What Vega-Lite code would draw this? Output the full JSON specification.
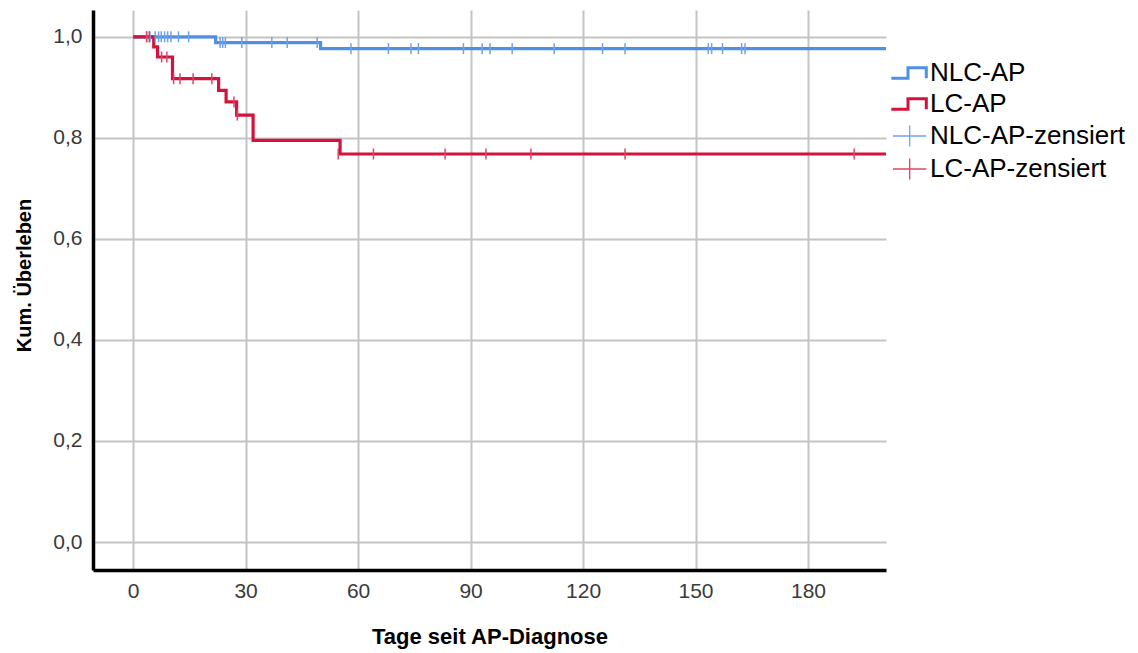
{
  "$schema": "https://vega.github.io/schema/vega-lite/v6.json",
  "width": 793,
  "height": 560,
  "autosize": {"type": "none"},
  "padding": {"left": 93, "top": 10, "right": 252, "bottom": 83},
  "background": "white",
  "config": {
    "view": {"stroke": null},
    "font": "Liberation Sans",
    "axis": {
      "domainColor": "black",
      "domainWidth": 3.5,
      "gridColor": "#c4c4c4",
      "gridWidth": 2,
      "gridOpacity": 1,
      "ticks": false,
      "labelFont": "Liberation Sans",
      "labelFontSize": 21,
      "labelColor": "#3a3a3a",
      "titleFont": "Liberation Sans",
      "titleFontWeight": "bold",
      "titleColor": "black"
    }
  },
  "datasets": {
    "lines": [
      {"grp": "NLC-AP", "t": 0, "s": 1.0},
      {"grp": "NLC-AP", "t": 22, "s": 0.9885},
      {"grp": "NLC-AP", "t": 50, "s": 0.9765},
      {"grp": "NLC-AP", "t": 202, "s": 0.9765},
      {"grp": "LC-AP", "t": 0, "s": 1.0},
      {"grp": "LC-AP", "t": 5.5, "s": 0.98},
      {"grp": "LC-AP", "t": 6.5, "s": 0.96},
      {"grp": "LC-AP", "t": 10.5, "s": 0.917},
      {"grp": "LC-AP", "t": 22.8, "s": 0.894},
      {"grp": "LC-AP", "t": 24.8, "s": 0.871},
      {"grp": "LC-AP", "t": 27.6, "s": 0.845},
      {"grp": "LC-AP", "t": 32, "s": 0.795},
      {"grp": "LC-AP", "t": 55.2, "s": 0.768},
      {"grp": "LC-AP", "t": 202, "s": 0.768}
    ],
    "cens": [
      {"grp": "NLC-AP-zensiert", "t": 3.6, "s": 1.0},
      {"grp": "NLC-AP-zensiert", "t": 4.5, "s": 1.0},
      {"grp": "NLC-AP-zensiert", "t": 5.9, "s": 1.0},
      {"grp": "NLC-AP-zensiert", "t": 6.8, "s": 1.0},
      {"grp": "NLC-AP-zensiert", "t": 7.5, "s": 1.0},
      {"grp": "NLC-AP-zensiert", "t": 8.4, "s": 1.0},
      {"grp": "NLC-AP-zensiert", "t": 9.2, "s": 1.0},
      {"grp": "NLC-AP-zensiert", "t": 10.1, "s": 1.0},
      {"grp": "NLC-AP-zensiert", "t": 12.1, "s": 1.0},
      {"grp": "NLC-AP-zensiert", "t": 14.8, "s": 1.0},
      {"grp": "NLC-AP-zensiert", "t": 23.2, "s": 0.9885},
      {"grp": "NLC-AP-zensiert", "t": 23.9, "s": 0.9885},
      {"grp": "NLC-AP-zensiert", "t": 24.6, "s": 0.9885},
      {"grp": "NLC-AP-zensiert", "t": 29, "s": 0.9885},
      {"grp": "NLC-AP-zensiert", "t": 37, "s": 0.9885},
      {"grp": "NLC-AP-zensiert", "t": 41.1, "s": 0.9885},
      {"grp": "NLC-AP-zensiert", "t": 49.1, "s": 0.9885},
      {"grp": "NLC-AP-zensiert", "t": 58.1, "s": 0.9765},
      {"grp": "NLC-AP-zensiert", "t": 68.1, "s": 0.9765},
      {"grp": "NLC-AP-zensiert", "t": 74.1, "s": 0.9765},
      {"grp": "NLC-AP-zensiert", "t": 76.1, "s": 0.9765},
      {"grp": "NLC-AP-zensiert", "t": 88.1, "s": 0.9765},
      {"grp": "NLC-AP-zensiert", "t": 93.1, "s": 0.9765},
      {"grp": "NLC-AP-zensiert", "t": 95.2, "s": 0.9765},
      {"grp": "NLC-AP-zensiert", "t": 101.1, "s": 0.9765},
      {"grp": "NLC-AP-zensiert", "t": 112.3, "s": 0.9765},
      {"grp": "NLC-AP-zensiert", "t": 125.2, "s": 0.9765},
      {"grp": "NLC-AP-zensiert", "t": 131.2, "s": 0.9765},
      {"grp": "NLC-AP-zensiert", "t": 153.4, "s": 0.9765},
      {"grp": "NLC-AP-zensiert", "t": 154.3, "s": 0.9765},
      {"grp": "NLC-AP-zensiert", "t": 157.2, "s": 0.9765},
      {"grp": "NLC-AP-zensiert", "t": 162.3, "s": 0.9765},
      {"grp": "NLC-AP-zensiert", "t": 163.2, "s": 0.9765},
      {"grp": "LC-AP-zensiert", "t": 3.6, "s": 1.0},
      {"grp": "LC-AP-zensiert", "t": 4.3, "s": 1.0},
      {"grp": "LC-AP-zensiert", "t": 7.6, "s": 0.96},
      {"grp": "LC-AP-zensiert", "t": 9.0, "s": 0.96},
      {"grp": "LC-AP-zensiert", "t": 10.8, "s": 0.917},
      {"grp": "LC-AP-zensiert", "t": 12.5, "s": 0.917},
      {"grp": "LC-AP-zensiert", "t": 16.0, "s": 0.917},
      {"grp": "LC-AP-zensiert", "t": 21.0, "s": 0.917},
      {"grp": "LC-AP-zensiert", "t": 26.9, "s": 0.871},
      {"grp": "LC-AP-zensiert", "t": 27.8, "s": 0.845},
      {"grp": "LC-AP-zensiert", "t": 54.7, "s": 0.768},
      {"grp": "LC-AP-zensiert", "t": 64.1, "s": 0.768},
      {"grp": "LC-AP-zensiert", "t": 83.2, "s": 0.768},
      {"grp": "LC-AP-zensiert", "t": 94.1, "s": 0.768},
      {"grp": "LC-AP-zensiert", "t": 106.1, "s": 0.768},
      {"grp": "LC-AP-zensiert", "t": 131.2, "s": 0.768},
      {"grp": "LC-AP-zensiert", "t": 192.3, "s": 0.768}
    ]
  },
  "encoding": {
    "x": {
      "field": "t",
      "type": "quantitative",
      "scale": {"domain": [-10.7, 200.8], "nice": false, "zero": false},
      "axis": {
        "title": "Tage seit AP-Diagnose",
        "values": [0, 30, 60, 90, 120, 150, 180],
        "titleFontSize": 22,
        "labelPadding": 10,
        "titlePadding": 25
      }
    },
    "y": {
      "field": "s",
      "type": "quantitative",
      "scale": {"domain": [-0.0554, 1.053], "nice": false, "zero": false},
      "axis": {
        "title": "Kum. Überleben",
        "values": [0, 0.2, 0.4, 0.6, 0.8, 1.0],
        "labelExpr": "replace(format(datum.value, '.1f'), '.', ',')",
        "titleFontSize": 20,
        "labelPadding": 11,
        "titlePadding": 18,
        "titleY": 265
      }
    },
    "color": {
      "field": "grp",
      "type": "nominal",
      "scale": {
        "domain": ["NLC-AP", "LC-AP", "NLC-AP-zensiert", "LC-AP-zensiert"],
        "range": ["#4f8fe6", "#d3133b", "#6ea2ec", "#dc4565"]
      },
      "legend": {
        "title": null,
        "orient": "none",
        "legendX": 810,
        "legendY": 50,
        "padding": 0,
        "symbolSize": 400,
        "labelFont": "Liberation Sans",
        "labelFontSize": 26,
        "labelColor": "black",
        "labelLimit": 0,
        "labelOffset": 1,
        "rowPadding": 5,
        "encode": {
          "symbols": {
            "update": {
              "shape": {"signal": "(datum.value == 'NLC-AP' || datum.value == 'LC-AP') ? 'M-2.47,0.53H-0.8V-0.53H1.03V0.53' : 'M-2.3,0H1.03M-0.63,-1.05V1.05'"},
              "strokeWidth": {"signal": "(datum.value == 'NLC-AP' || datum.value == 'LC-AP') ? 3 : 1.3"},
              "stroke": {"scale": "color", "field": "value"},
              "fill": {"value": "transparent"},
              "fillOpacity": {"value": 0},
              "strokeOpacity": {"value": 1},
              "opacity": {"value": 1}
            }
          }
        }
      }
    }
  },
  "layer": [
    {
      "data": {"name": "lines"},
      "mark": {"type": "line", "interpolate": "step-after", "strokeWidth": 3.2, "clip": true}
    },
    {
      "data": {"name": "cens"},
      "mark": {"type": "tick", "orient": "vertical", "size": 11, "thickness": 1.5, "opacity": 1}
    }
  ]
}
